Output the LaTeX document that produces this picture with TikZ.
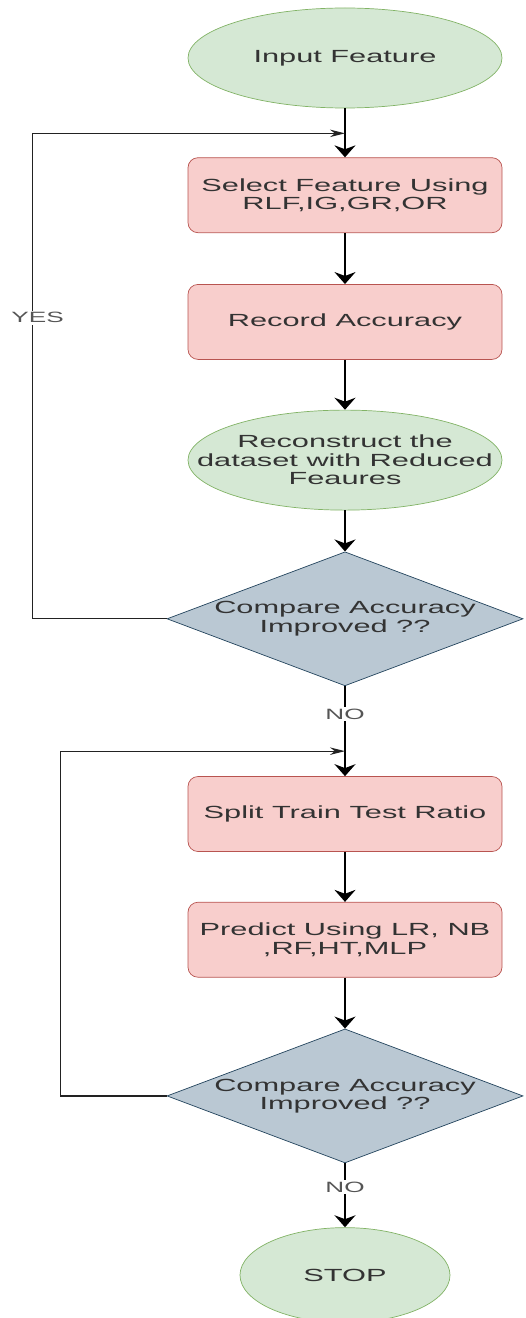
\documentclass[tikz,border=0pt]{standalone}
\usepackage{fontspec}
\setmainfont{Liberation Sans}[FakeStretch=1.75]
\usepackage{xcolor}
\usepackage{tikz}
\usetikzlibrary{arrows.meta,positioning,calc,shapes.geometric}

\definecolor{termfill}{HTML}{D5E8D4}
\definecolor{termline}{HTML}{82B366}
\definecolor{procfill}{HTML}{F8CECC}
\definecolor{procline}{HTML}{B85450}
\definecolor{condfill}{HTML}{BAC8D3}
\definecolor{condline}{HTML}{23445D}
\definecolor{txtgray}{HTML}{333333}
\definecolor{lblgray}{HTML}{555555}
\definecolor{loopgray}{HTML}{222222}

\begin{document}
\begin{tikzpicture}[
term/.style={ellipse,draw=termline,fill=termfill,text=txtgray,inner sep=0pt,align=center,font=\fontsize{10}{10.5}\selectfont,minimum width=6.28cm,minimum height=2cm},
proc/.style={draw=procline,fill=procfill,rounded corners=2mm,text=txtgray,inner sep=1pt,align=center,font=\fontsize{10}{10.5}\selectfont,minimum width=6.28cm,minimum height=1.5cm},
cond/.style={diamond,aspect=2.66,draw=condline,fill=condfill,text=txtgray,inner sep=0pt,align=center,font=\fontsize{10}{10.5}\selectfont,minimum width=7.12cm,minimum height=2.68cm},
arr/.style={-{Stealth[length=2.4mm,width=4.2mm]},line width=1.1pt},
back/.style={-{Stealth[length=3mm,width=1.5mm]},line width=0.7pt,draw=loopgray},
lbl/.style={fill=white,text=lblgray,inner sep=1pt,font=\fontsize{8.5}{9}\selectfont}
]
\useasboundingbox (0,0) rectangle (10.5,-26.36);

% feature selection loop
\node[term] (in) at (6.9,-1.16) {Input Feature};
\node[proc, below=0.98cm of in] (sel) {Select Feature Using\\RLF,IG,GR,OR};
\node[proc, below=1.02cm of sel] (rec) {Record Accuracy};
\node[term, below=1.0cm of rec, inner xsep=-0.75cm] (recon) {Reconstruct the\\dataset with Reduced\\Feaures};
\node[cond, below=0.82cm of recon] (cmp1) {Compare Accuracy\\Improved ??};

% prediction loop
\node[proc, below=1.8cm of cmp1] (split) {Split Train Test Ratio};
\node[proc, below=1.0cm of split] (pred) {Predict Using LR, NB\\,RF,HT,MLP};
\node[cond, below=1.02cm of pred] (cmp2) {Compare Accuracy\\Improved ??};
\node[term, below=1.28cm of cmp2, minimum width=4.2cm, minimum height=1.9cm] (stop) {STOP};

\coordinate[above=0.48cm of sel.north] (j1);
\coordinate[above=0.5cm of split.north] (j2);

\draw[arr] (in) -- (sel);
\draw[arr] (sel) -- (rec);
\draw[arr] (rec) -- (recon);
\draw[arr] (recon) -- (cmp1);
\draw[arr] (cmp1) -- node[lbl,pos=0.31]{NO} (split);
\draw[arr] (split) -- (pred);
\draw[arr] (pred) -- (cmp2);
\draw[arr] (cmp2) -- node[lbl,pos=0.375]{NO} (stop);

% back edges
\draw[back] (cmp1.west) -- ++(-2.68,0) |- node[lbl,pos=0.31,xshift=0.1cm]{YES} (j1);
\draw[back] (cmp2.west) -- ++(-2.12,0) |- (j2);
\end{tikzpicture}
\end{document}
